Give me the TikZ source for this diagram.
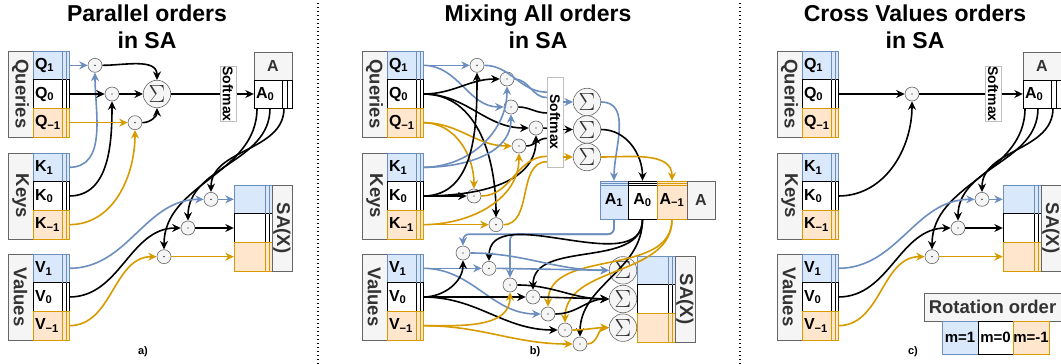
\documentclass[tikz,border=0pt]{standalone}
\usepackage{fontspec}
\setmainfont{Liberation Sans}
\usepackage{graphicx}
\usepackage{tikz}
\usetikzlibrary{arrows.meta,calc}

\definecolor{bluefill}{HTML}{DAE8FC}
\definecolor{blueline}{HTML}{6C8EBF}
\definecolor{orangefill}{HTML}{FFE6CC}
\definecolor{orangeline}{HTML}{D79B00}
\definecolor{grayfill}{HTML}{F5F5F5}
\definecolor{grayline}{HTML}{666666}
\definecolor{labeltext}{HTML}{333333}

\newcommand{\titlefont}{\fontsize{23}{27.5}\selectfont\bfseries}
\newcommand{\lblfont}{\fontsize{18.5}{20}\selectfont\bfseries}
\newcommand{\cellfont}{\fontsize{16}{18}\selectfont\bfseries}
\newcommand{\smfont}{\fontsize{14}{16}\selectfont\bfseries}
\newcommand{\legfont}{\fontsize{15}{17}\selectfont\bfseries}
\newcommand{\tagfont}{\fontsize{11}{12}\selectfont\bfseries}

% one Queries/Keys/Values block: name, left, top, label, letter
\newcommand{\qkvgroup}[5]{%
  \begin{scope}[shift={(#2,-#3)}]
    \node[grp] (#1) at (12.5,-43) {\rotatebox{-90}{#4}};
    \node[cellb] (#1p) at (43,-14.33) {#5\textsubscript{1}};
    \node[cellw] (#1z) at (43,-43) {#5\textsubscript{0}};
    \node[cello] (#1m) at (43,-71.67) {#5\textsubscript{−1}};
    \draw[stackb] (54.5,0) -- (54.5,-28.67) (58,0) -- (58,-28.67);
    \draw[stackw] (54.5,-28.67) -- (54.5,-57.33) (58,-28.67) -- (58,-57.33);
    \draw[stacko] (54.5,-57.33) -- (54.5,-86) (58,-57.33) -- (58,-86);
  \end{scope}}

% output block SA(X): name, left, top
\newcommand{\sabox}[3]{%
  \begin{scope}[shift={(#2,-#3)}]
    \node[cellb, text width=34pt] (#1p) at (19,-14.33) {};
    \node[cellw, text width=34pt] (#1z) at (19,-43) {};
    \node[cello, text width=34pt] (#1m) at (19,-71.67) {};
    \draw[stackb] (31.5,0) -- (31.5,-28.67) (35,0) -- (35,-28.67);
    \draw[stackw] (31.5,-28.67) -- (31.5,-57.33) (35,-28.67) -- (35,-57.33);
    \draw[stacko] (31.5,-57.33) -- (31.5,-86) (35,-57.33) -- (35,-86);
    \node[grp, minimum width=20pt] (#1) at (48,-43) {\rotatebox{-90}{SA(X)}};
  \end{scope}}

% attention block A with A_0: name, left, top
\newcommand{\abox}[3]{%
  \begin{scope}[shift={(#2,-#3)}]
    \node[hdr, minimum width=38pt, minimum height=28pt] (#1) at (19,-14) {A};
    \node[cellw, text width=34pt, minimum height=28pt] (#1z) at (19,-42) {A\textsubscript{0}};
    \draw[stackw] (28.5,-28) -- (28.5,-56) (33,-28) -- (33,-56);
  \end{scope}}

\begin{document}
\begin{tikzpicture}[
  x=1pt, y=1pt,
  grp/.style={rectangle, draw=grayline, fill=grayfill, text=labeltext, font=\lblfont, minimum width=25pt, minimum height=86pt, inner sep=0pt},
  cellb/.style={rectangle, draw=blueline, fill=bluefill, font=\cellfont, text width=32pt, align=left, inner xsep=2pt, inner ysep=0pt, minimum height=28.67pt},
  cellw/.style={cellb, draw=black, fill=white},
  cello/.style={cellb, draw=orangeline, fill=orangefill},
  hdr/.style={rectangle, draw=grayline, fill=grayfill, text=labeltext, font=\cellfont, inner sep=0pt},
  legbox/.style={rectangle, font=\legfont, minimum width=35.5pt, minimum height=33pt, inner sep=0pt},
  dotn/.style={circle, draw=grayline, fill=grayfill, minimum size=14pt, inner sep=0pt, line width=0.6pt,
    path picture={\fill[black] (path picture bounding box.center) circle (0.7pt);}},
  sumn/.style={circle, draw=grayline, fill=grayfill, minimum size=27.5pt, inner sep=0pt, line width=0.6pt, text=labeltext, font=\fontsize{24}{24}\selectfont},
  smax/.style={rectangle, draw=black!25, fill=white, font=\smfont, inner sep=0pt, minimum width=16pt},
  arr/.style={-{Stealth[length=8.5pt, width=8pt]}, line width=1.6pt},
  barr/.style={arr, draw=blueline},
  oarr/.style={arr, draw=orangeline},
  ln/.style={line width=1.6pt},
  stackb/.style={draw=blueline, line width=0.7pt},
  stackw/.style={draw=black, line width=0.7pt},
  stacko/.style={draw=orangeline, line width=0.7pt},
  sepline/.style={line width=1.3pt, dash pattern=on 1.3pt off 2.7pt}
]
\useasboundingbox (0,0) rectangle (1061,-364);

\draw[sepline] (318,-3) -- (318,-364);
\draw[sepline] (740,-3) -- (740,-364);

\node[font=\titlefont, align=center] (ta) at (147,-27) {Parallel orders\\in SA};
\qkvgroup{qa}{8}{51}{Queries}{Q}
\qkvgroup{ka}{8}{153}{Keys}{K}
\qkvgroup{va}{8}{254}{Values}{V}
\node[dotn] (pa1) at (95,-65.33) {};
\node[dotn] (pa2) at (112,-94) {};
\node[dotn] (pa3) at (135,-122.67) {};
\node[sumn] (sa) at (157,-94) {$\Sigma$};
\abox{aa}{254}{52}
\draw[barr] (qap.east) -- (pa1.west);
\draw[barr] (kap.east) to[out=0,in=-90] (pa1.south);
\draw[arr] (qaz.east) -- (pa2.west);
\draw[arr] (kaz.east) to[out=0,in=-90] (pa2.south);
\draw[oarr] (qam.east) -- (pa3.west);
\draw[oarr] (kam.east) to[out=0,in=-90] (pa3.south);
\draw[arr] (pa1.east) to[out=0,in=90] (sa.north);
\draw[arr] (pa2.east) -- (sa.west);
\draw[arr] (pa3.east) to[out=0,in=-90] (sa.south);
\draw[arr] (sa.east) -- (aaz.west);
\node[smax, minimum height=55pt] (sma) at (228,-94) {\rotatebox{-90}{Softmax}};
\node[dotn] (pb1) at (211,-199.33) {};
\node[dotn] (pb2) at (188,-228) {};
\node[dotn] (pb3) at (164,-256.67) {};
\sabox{xa}{234}{185}
\draw[arr] ([xshift=-16pt]aaz.south) to[out=-90,in=90] (pb3.north);
\draw[arr] ([xshift=-3pt]aaz.south) to[out=-90,in=90] (pb2.north);
\draw[arr] ([xshift=11pt]aaz.south) to[out=-90,in=90] (pb1.north);
\draw[barr] (vap.east) to[out=0,in=180] (pb1.west);
\draw[arr] (vaz.east) to[out=0,in=180] (pb2.west);
\draw[oarr] (vam.east) to[out=0,in=180] (pb3.west);
\draw[barr] (pb1.east) -- (xap.west);
\draw[arr] (pb2.east) -- (xaz.west);
\draw[oarr] (pb3.east) -- (xam.west);
\node[font=\tagfont] (la) at (143,-352) {a)};

\node[font=\titlefont, align=center] (tb) at (538,-27) {Mixing All orders\\in SA};
\qkvgroup{qb}{362}{51}{Queries}{Q}
\qkvgroup{kb}{362}{153}{Keys}{K}
\qkvgroup{vb}{362}{254}{Values}{V}
\node[dotn] (d1) at (477,-65.33) {};
\node[dotn] (d2) at (507,-79) {};
\node[dotn] (d3) at (511,-107) {};
\node[dotn] (d4) at (536,-128) {};
\node[dotn] (d5) at (519,-146) {};
\node[dotn] (d6) at (474,-196) {};
\node[dotn] (d7) at (496,-224.67) {};
\node[smax, minimum height=90pt] (smb) at (555,-122) {\rotatebox{-90}{Softmax}};
\coordinate (w1) at ($(smb.north west)!.17!(smb.south west)$);
\coordinate (w2) at ($(smb.north west)!.23!(smb.south west)$);
\coordinate (w3) at ($(smb.north west)!.40!(smb.south west)$);
\coordinate (w4) at ($(smb.north west)!.57!(smb.south west)$);
\coordinate (w5) at ($(smb.north west)!.68!(smb.south west)$);
\coordinate (w6) at ($(smb.north west)!.88!(smb.south west)$);
\coordinate (w7) at ($(smb.north west)!.94!(smb.south west)$);
\node[sumn] (s1) at (587,-102) {$\Sigma$};
\node[sumn] (s2) at (587,-129.5) {$\Sigma$};
\node[sumn] (s3) at (587,-157) {$\Sigma$};
\draw[barr] (qbp.east) -- (d1.west);
\draw[barr] (qbp.east) to[out=0,in=180] (d3.west);
\draw[arr] (qbz.east) to[out=0,in=180] (d2.west);
\draw[arr] (qbz.east) to[out=0,in=180] (d4.west);
\draw[arr] (qbz.east) to[out=0,in=90] (d7.north);
\draw[oarr] (qbm.east) to[out=0,in=180] (d5.west);
\draw[oarr] (qbm.east) to[out=0,in=90] (d6.north);
\draw[barr] (kbp.east) to[out=0,in=-90] (d2.south);
\draw[barr] (kbp.east) to[out=0,in=-90] (d3.south);
\draw[arr] (kbz.east) to[out=0,in=-90] (d1.south);
\draw[arr] (kbz.east) to[out=0,in=-90] (d4.south);
\draw[arr] (kbz.east) -- (d6.west);
\draw[oarr] (kbm.east) to[out=0,in=-90] (d5.south);
\draw[oarr] (kbm.east) -- (d7.west);
\draw[ln, blueline] (d1.east) to[out=0,in=180] (w1);
\draw[ln, blueline] (d2.east) to[out=0,in=180] (w2);
\draw[ln] (d3.east) to[out=0,in=180] (w3);
\draw[ln] (d4.east) -- (w4);
\draw[ln] (d5.east) to[out=0,in=180] (w5);
\draw[ln, orangeline] (d6.east) to[out=0,in=180] (w6);
\draw[ln, orangeline] (d7.east) to[out=0,in=180] (w7);
\draw[barr] (smb.east |- s1) -- (s1.west);
\draw[arr] (smb.east |- s2) -- (s2.west);
\draw[oarr] (smb.east |- s3) -- (s3.west);
\node[cellb, text width=24.5pt, minimum height=38pt, align=center] (ab1) at (614,-200) {\raisebox{-4pt}{A\textsubscript{1}}};
\node[cellw, text width=24.5pt, minimum height=38pt, align=center] (ab0) at (642.5,-200) {\raisebox{-4pt}{A\textsubscript{0}}};
\node[cello, text width=26pt, minimum height=38pt, align=center] (abm) at (672,-200) {\raisebox{-4pt}{A\textsubscript{−1}}};
\node[hdr, minimum width=28pt, minimum height=38pt] (ab) at (701,-200) {A};
\draw[stackb] ([yshift=-2.5pt]ab1.north west) -- ([yshift=-2.5pt]ab1.north east) ([yshift=-5pt]ab1.north west) -- ([yshift=-5pt]ab1.north east);
\draw[stackw] ([yshift=-2.5pt]ab0.north west) -- ([yshift=-2.5pt]ab0.north east) ([yshift=-5pt]ab0.north west) -- ([yshift=-5pt]ab0.north east);
\draw[stacko] ([yshift=-2.5pt]abm.north west) -- ([yshift=-2.5pt]abm.north east) ([yshift=-5pt]abm.north west) -- ([yshift=-5pt]abm.north east);
\draw[barr] (s1.east) to[out=0,in=90] (ab1.north);
\draw[arr] (s2.east) to[out=0,in=90] (ab0.north);
\draw[oarr] (s3.east) to[out=0,in=90] (abm.north);
\node[dotn] (e1) at (463,-253) {};
\node[dotn] (e2) at (489,-268.33) {};
\node[dotn] (e3) at (510,-285) {};
\node[dotn] (e4) at (533,-297) {};
\node[dotn] (e5) at (548,-314) {};
\node[dotn] (e6) at (565,-330) {};
\node[dotn] (e7) at (580,-344) {};
\node[sumn] (t1) at (623,-270.33) {$\Sigma$};
\node[sumn] (t2) at (623,-299) {$\Sigma$};
\node[sumn] (t3) at (623,-327.67) {$\Sigma$};
\sabox{xb}{637}{256}
\draw[barr, rounded corners=6pt] (ab1.south) -- ++(0,-15) -| (e1.north);
\draw[barr, rounded corners=6pt] (ab1.south) -- ++(0,-15) -| (e3.north);
\draw[arr] (ab0.south) to[out=-90,in=90] (e2.north);
\draw[arr] (ab0.south) to[out=-90,in=90] (e4.north);
\draw[arr] (ab0.south) to[out=-90,in=90] (e7.north);
\draw[oarr] (abm.south) to[out=-90,in=90] (e5.north);
\draw[oarr] (abm.south) to[out=-90,in=90] (e6.north);
\draw[barr] (vbp.east) -- (e2.west);
\draw[barr] (vbp.east) to[out=0,in=180] (e5.west);
\draw[arr] (vbz.east) to[out=0,in=-90] (e1.south);
\draw[arr] (vbz.east) -- (e4.west);
\draw[arr] (vbz.east) to[out=0,in=180] (e6.west);
\draw[oarr] (vbm.east) to[out=0,in=-90] (e3.south);
\draw[oarr] (vbm.east) to[out=0,in=180] (e7.west);
\draw[barr] (e1.east) to[out=0,in=180] (t1.west);
\draw[barr] (e2.east) -- (t1.west);
\draw[arr] (e3.east) to[out=0,in=180] (t2.west);
\draw[arr] (e4.east) -- (t2.west);
\draw[arr] (e5.east) to[out=0,in=180] (t2.west);
\draw[oarr] (e6.east) to[out=0,in=180] (t3.west);
\draw[oarr] (e7.east) to[out=0,in=180] (t3.west);
\node[font=\tagfont] (lb) at (535,-352) {b)};

\node[font=\titlefont, align=center] (tc) at (915,-27) {Cross Values orders\\in SA};
\qkvgroup{qc}{777}{51}{Queries}{Q}
\qkvgroup{kc}{777}{153}{Keys}{K}
\qkvgroup{vc}{777}{254}{Values}{V}
\node[dotn] (pc) at (912,-94) {};
\abox{ac}{1023}{52}
\draw[arr] (qcz.east) -- (pc.west);
\draw[arr] (kcz.east) to[out=0,in=-90] (pc.south);
\draw[arr] (pc.east) -- (acz.west);
\node[smax, minimum height=55pt] (smc) at (993,-94) {\rotatebox{-90}{Softmax}};
\node[dotn] (pd1) at (982,-199.33) {};
\node[dotn] (pd2) at (958,-228) {};
\node[dotn] (pd3) at (932,-256.67) {};
\sabox{xc}{1003}{185}
\draw[arr] ([xshift=-17pt]acz.south) to[out=-90,in=90] (pd3.north);
\draw[arr] ([xshift=-4pt]acz.south) to[out=-90,in=90] (pd2.north);
\draw[arr] ([xshift=11pt]acz.south) to[out=-90,in=90] (pd1.north);
\draw[barr] (vcp.east) to[out=0,in=180] (pd1.west);
\draw[arr] (vcz.east) to[out=0,in=180] (pd2.west);
\draw[oarr] (vcm.east) to[out=0,in=180] (pd3.west);
\draw[barr] (pd1.east) -- (xcp.west);
\draw[arr] (pd2.east) -- (xcz.west);
\draw[oarr] (pd3.east) -- (xcm.west);
\node[hdr, font=\lblfont, minimum width=137pt, minimum height=28pt] (rot) at (992.5,-307) {Rotation order};
\node[legbox, draw=blueline, fill=bluefill] (m1) at (960,-337.5) {m=1};
\node[legbox, draw=black, fill=white] (m0) at (995.5,-337.5) {m=0};
\node[legbox, draw=orangeline, fill=orangefill] (mm) at (1031,-337.5) {m=-1};
\node[font=\tagfont] (lc) at (913,-352) {c)};
\end{tikzpicture}
\end{document}
